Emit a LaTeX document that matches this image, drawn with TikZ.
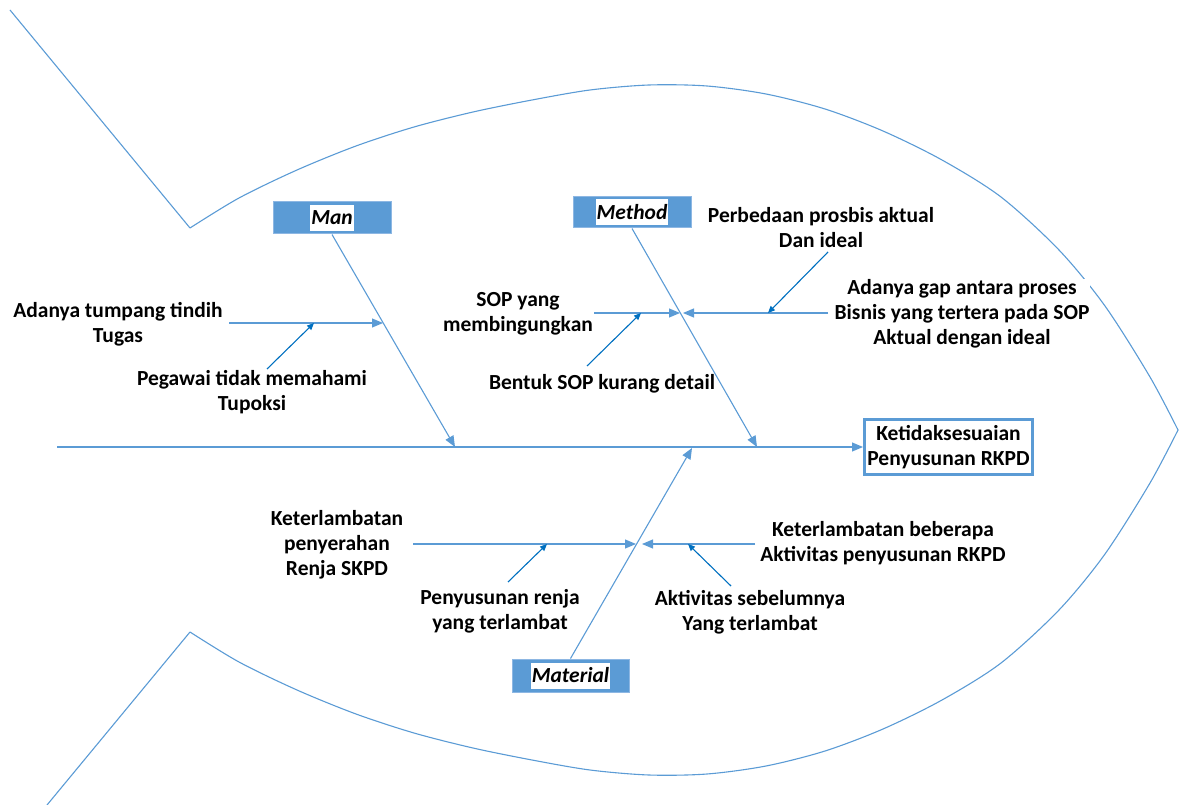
\documentclass[tikz,border=0pt]{standalone}
\usepackage{fontspec}
\setmainfont{Carlito}
\usetikzlibrary{arrows.meta}
\definecolor{bone}{HTML}{5B9BD5}
\definecolor{sub}{HTML}{0070C0}
\definecolor{boxedge}{HTML}{8DB7E3}
\begin{document}
\begin{tikzpicture}[x=1pt,y=-1pt,
  outline/.style={draw=bone, line width=1.1pt},
  bonearrow/.style={draw=bone, line width=1.1pt, -{Triangle[length=11pt,width=9pt]}},
  subarrow/.style={draw=sub, line width=1.1pt, -{Triangle[length=7pt,width=6pt]}},
  lbl/.style={font=\fontsize{21.5}{25}\selectfont\bfseries, align=center, inner sep=1pt},
  catbox/.style={fill=bone, draw=boxedge, line width=1pt, minimum width=118pt, minimum height=32pt},
  cattext/.style={fill=white, font=\fontsize{21.5}{25}\selectfont\bfseries\itshape, inner sep=1pt, minimum height=26pt}]
\useasboundingbox (0,0) rectangle (1186,805);

% fish outline
\draw[outline] (10,10) -- (190,228);
\draw[outline] plot[smooth, tension=0.5] coordinates {(190,228) (239,198) (297,170) (356,146) (414,127) (473,112) (532,100) (590,90) (649,85) (707,86) (766,94) (825,109) (883,131) (942,160) (1001,197) (1059,250) (1105,306) (1150,377) (1178,430)};
\draw[outline] plot[smooth, tension=0.5] coordinates {(190,632) (239,662) (297,690) (356,714) (414,733) (473,748) (532,760) (590,770) (649,775) (707,774) (766,766) (825,751) (883,729) (942,700) (1001,663) (1059,610) (1105,554) (1150,483) (1178,430)};
\draw[outline] (190,632) -- (47,805);

% category boxes
\node[catbox] (man) at (332,218) {};
\node[cattext] (manl) at (man) {Man};
\node[catbox, minimum height=31pt] (method) at (632,212.5) {};
\node[cattext] (methodl) at (method) {Method};
\node[catbox, minimum width=117pt, minimum height=33pt] (material) at (570.5,675.5) {};
\node[cattext] (materiall) at (material) {Material};

% head
\node[lbl, draw=bone, line width=3pt, fill=white, minimum width=168pt, minimum height=55pt] (head) at (948.5,447) {Ketidaksesuaian\\Penyusunan RKPD};

% spine
\coordinate (tail) at (57,447);
\draw[bonearrow] (tail) -- (head.west);

% main bones
\coordinate (manend) at (455,447);
\coordinate (methodend) at (757,447);
\coordinate (materialend) at (692,448);
\draw[bonearrow] (man.south) -- (manend);
\draw[bonearrow] (method.south) -- (methodend);
\draw[bonearrow] (material.north) -- (materialend);

% Man sub-bones
\coordinate (m1s) at (229,323); \coordinate (m1e) at (383,323);
\coordinate (m2s) at (267,369); \coordinate (m2e) at (314,323);
\draw[bonearrow] (m1s) -- (m1e);
\draw[subarrow] (m2s) -- (m2e);

% Method sub-bones
\coordinate (d1s) at (594,313); \coordinate (d1e) at (680,313);
\coordinate (d2s) at (828,313); \coordinate (d2e) at (683,313);
\coordinate (d3s) at (587,366); \coordinate (d3e) at (641,313);
\coordinate (d4s) at (828,252); \coordinate (d4e) at (768,313);
\draw[bonearrow] (d1s) -- (d1e);
\draw[bonearrow] (d2s) -- (d2e);
\draw[subarrow] (d3s) -- (d3e);
\draw[subarrow] (d4s) -- (d4e);

% Material sub-bones
\coordinate (r1s) at (413,544); \coordinate (r1e) at (636,544);
\coordinate (r2s) at (755,544); \coordinate (r2e) at (642,544);
\coordinate (r3s) at (508,582); \coordinate (r3e) at (547,544);
\coordinate (r4s) at (731,586); \coordinate (r4e) at (688,544);
\draw[bonearrow] (r1s) -- (r1e);
\draw[bonearrow] (r2s) -- (r2e);
\draw[subarrow] (r3s) -- (r3e);
\draw[subarrow] (r4s) -- (r4e);

% texts
\node[lbl] (t1) at (118,324) {Adanya tumpang tindih\\Tugas};
\node[lbl] (t2) at (252,392) {Pegawai tidak memahami\\Tupoksi};
\node[lbl] (t3) at (518,314) {SOP yang\\membingungkan};
\node[lbl] (t4) at (602,384) {Bentuk SOP kurang detail};
\node[lbl] (t5) at (821,228) {Perbedaan prosbis aktual\\Dan ideal};
\node[lbl, fill=white] (t6) at (962,314) {Adanya gap antara proses\\Bisnis yang tertera pada SOP\\Aktual dengan ideal};
\node[lbl] (t7) at (337,545) {Keterlambatan\\penyerahan\\Renja SKPD};
\node[lbl] (t8) at (500,611) {Penyusunan renja\\yang terlambat};
\node[lbl] (t9) at (883,543) {Keterlambatan beberapa\\Aktivitas penyusunan RKPD};
\node[lbl] (t10) at (750,612) {Aktivitas sebelumnya\\Yang terlambat};
\end{tikzpicture}
\end{document}
